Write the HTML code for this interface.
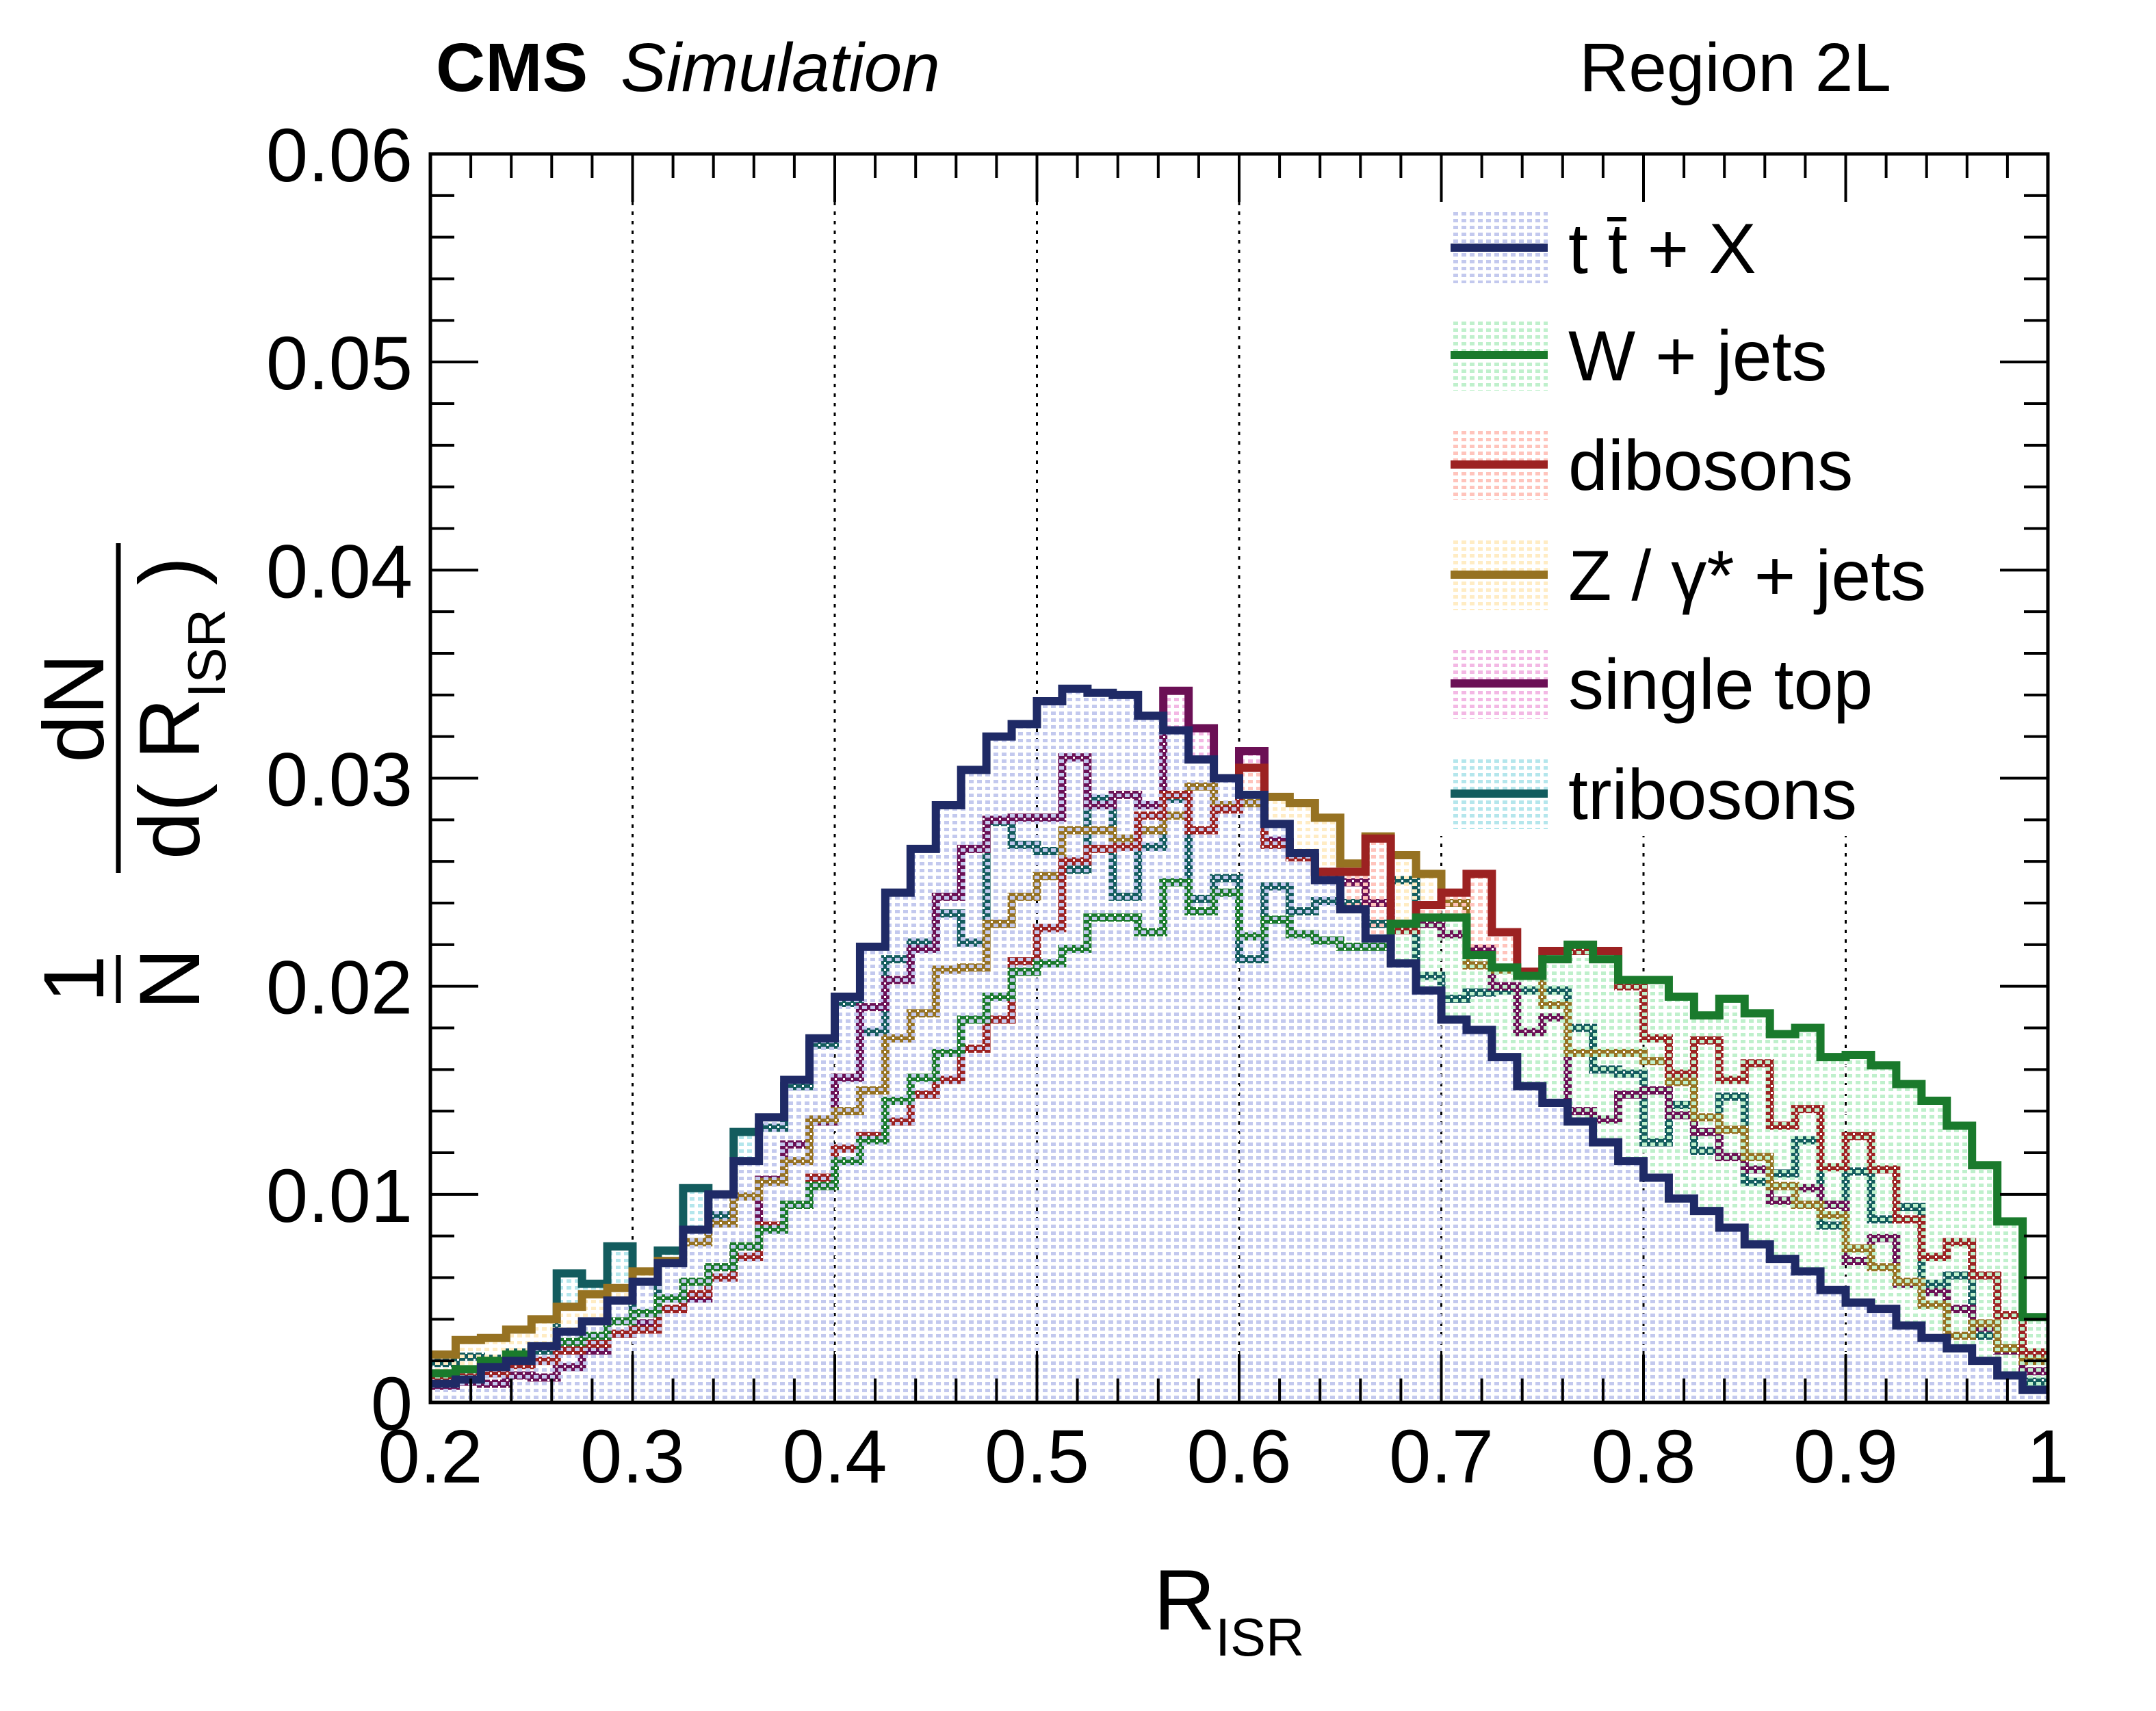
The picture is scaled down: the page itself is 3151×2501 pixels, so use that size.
<!DOCTYPE html>
<html><head><meta charset="utf-8"><style>
html,body{margin:0;padding:0;background:#fff;}
svg{display:block;font-family:"Liberation Sans","DejaVu Sans",sans-serif;}
</style></head><body>
<svg id="chart" xmlns="http://www.w3.org/2000/svg" width="3151" height="2501" viewBox="0 0 3151 2501">
<defs>
<pattern id="p-tt" width="12" height="10" patternUnits="userSpaceOnUse"><rect x="0" y="0" width="7" height="5" fill="#c3c9ee"/><rect x="8" y="6" width="3" height="3" fill="#fff"/></pattern>
<pattern id="p-w" width="12" height="10" patternUnits="userSpaceOnUse"><rect x="0" y="0" width="7" height="5" fill="#bff0cc"/><rect x="8" y="6" width="3" height="3" fill="#fff"/></pattern>
<pattern id="p-vv" width="12" height="10" patternUnits="userSpaceOnUse"><rect x="0" y="0" width="7" height="5" fill="#ffc4bc"/><rect x="8" y="6" width="3" height="3" fill="#fff"/></pattern>
<pattern id="p-z" width="12" height="10" patternUnits="userSpaceOnUse"><rect x="0" y="0" width="7" height="5" fill="#ffecc4"/><rect x="8" y="6" width="3" height="3" fill="#fff"/></pattern>
<pattern id="p-st" width="12" height="10" patternUnits="userSpaceOnUse"><rect x="0" y="0" width="7" height="5" fill="#f3b8e4"/><rect x="8" y="6" width="3" height="3" fill="#fff"/></pattern>
<pattern id="p-vvv" width="12" height="10" patternUnits="userSpaceOnUse"><rect x="0" y="0" width="7" height="5" fill="#b4e6ec"/><rect x="8" y="6" width="3" height="3" fill="#fff"/></pattern>
</defs>
<g id="grid"></g>
<g id="hists"></g>
<g id="legend"></g>
<g id="axes"></g>
<text x="637" y="133" font-size="100" font-weight="bold">CMS</text>
<text x="907" y="133" font-size="100" font-style="italic">Simulation</text>
<text x="2764" y="133" font-size="100" text-anchor="end">Region 2L</text>
<text x="1686" y="2382" font-size="125">R<tspan font-size="78" dy="38">ISR</tspan></text>
<g transform="translate(167,0) rotate(-90)">
  <text x="-1431" y="-16" font-size="125" text-anchor="middle">1</text>
  <line x1="-1466" y1="6" x2="-1396" y2="6" stroke="#000" stroke-width="7"/>
  <text x="-1431" y="124" font-size="125" text-anchor="middle">N</text>
  <text x="-1035" y="-16" font-size="125" text-anchor="middle">dN</text>
  <line x1="-1276" y1="6" x2="-794" y2="6" stroke="#000" stroke-width="7"/>
  <text x="-1035" y="124" font-size="125" text-anchor="middle">d( R<tspan font-size="78" dy="38">ISR</tspan><tspan dy="-38"> )</tspan></text>
</g>
</svg>
<script>
const binLo = 0.2;
const binWidth = 0.0125;
const ttbar = [0.0009,0.0011,0.0017,0.0020,0.0027,0.0034,0.0039,0.0049,0.0058,0.0067,0.0083,0.0100,0.0116,0.0137,0.0155,0.0175,0.0195,0.0219,0.0245,0.0266,0.0287,0.0304,0.0320,0.0326,0.0337,0.0343,0.0341,0.0340,0.0330,0.0323,0.0309,0.0300,0.0292,0.0278,0.0264,0.0251,0.0237,0.0223,0.0211,0.0198,0.0184,0.0179,0.0166,0.0152,0.0144,0.0135,0.0125,0.0116,0.0108,0.0098,0.0092,0.0084,0.0076,0.0069,0.0063,0.0054,0.0048,0.0045,0.0037,0.0031,0.0026,0.0020,0.0013,0.0006];
const wjets = [0.0014,0.0016,0.0020,0.0023,0.0027,0.0029,0.0032,0.0039,0.0043,0.0050,0.0058,0.0065,0.0075,0.0083,0.0095,0.0104,0.0116,0.0126,0.0145,0.0156,0.0168,0.0184,0.0195,0.0207,0.0211,0.0218,0.0233,0.0233,0.0226,0.0250,0.0236,0.0245,0.0224,0.0232,0.0225,0.0222,0.0219,0.0219,0.0230,0.0233,0.0233,0.0215,0.0209,0.0205,0.0213,0.0220,0.0213,0.0203,0.0203,0.0195,0.0186,0.0194,0.0187,0.0177,0.0180,0.0166,0.0167,0.0162,0.0153,0.0145,0.0133,0.0114,0.0087,0.0041];
const dibosons = [0.0012,0.0012,0.0014,0.0018,0.0020,0.0025,0.0028,0.0033,0.0035,0.0045,0.0052,0.0060,0.0070,0.0085,0.0095,0.0108,0.0122,0.0128,0.0135,0.0148,0.0155,0.0170,0.0184,0.0212,0.0228,0.0260,0.0266,0.0267,0.0282,0.0292,0.0275,0.0285,0.0305,0.0268,0.0262,0.0255,0.0255,0.0271,0.0227,0.0239,0.0245,0.0254,0.0226,0.0207,0.0217,0.0217,0.0217,0.0200,0.0175,0.0158,0.0174,0.0155,0.0163,0.0133,0.0141,0.0113,0.0128,0.0112,0.0088,0.0070,0.0077,0.0061,0.0042,0.0024];
const zjets = [0.0023,0.0030,0.0031,0.0035,0.0040,0.0046,0.0052,0.0055,0.0063,0.0068,0.0077,0.0086,0.0099,0.0106,0.0116,0.0136,0.0140,0.0150,0.0175,0.0187,0.0208,0.0209,0.0230,0.0243,0.0253,0.0275,0.0275,0.0271,0.0275,0.0282,0.0296,0.0287,0.0288,0.0291,0.0288,0.0281,0.0259,0.0272,0.0263,0.0254,0.0240,0.0210,0.0208,0.0205,0.0191,0.0168,0.0168,0.0168,0.0164,0.0154,0.0137,0.0131,0.0118,0.0104,0.0095,0.0090,0.0074,0.0065,0.0058,0.0047,0.0032,0.0038,0.0026,0.0020];
const singletop = [0.0008,0.0010,0.0009,0.0013,0.0012,0.0017,0.0025,0.0033,0.0038,0.0045,0.0050,0.0065,0.0075,0.0107,0.0124,0.0135,0.0156,0.0190,0.0203,0.0218,0.0243,0.0266,0.0280,0.0281,0.0281,0.0310,0.0287,0.0292,0.0287,0.0342,0.0324,0.0285,0.0313,0.0270,0.0262,0.0255,0.0250,0.0240,0.0230,0.0230,0.0225,0.0218,0.0200,0.0178,0.0185,0.0140,0.0136,0.0148,0.0150,0.0138,0.0130,0.0118,0.0112,0.0097,0.0103,0.0095,0.0068,0.0079,0.0057,0.0053,0.0045,0.0036,0.0025,0.0015];
const tribosons = [0.0019,0.0022,0.0021,0.0024,0.0025,0.0062,0.0057,0.0075,0.0043,0.0073,0.0103,0.0090,0.0130,0.0132,0.0152,0.0172,0.0192,0.0178,0.0213,0.0221,0.0235,0.0221,0.0279,0.0268,0.0265,0.0256,0.0290,0.0243,0.0267,0.0290,0.0242,0.0252,0.0213,0.0248,0.0236,0.0241,0.0240,0.0230,0.0251,0.0205,0.0194,0.0197,0.0198,0.0198,0.0198,0.0180,0.0160,0.0158,0.0125,0.0143,0.0121,0.0147,0.0106,0.0110,0.0126,0.0085,0.0111,0.0088,0.0094,0.0057,0.0061,0.0032,0.0026,0.0010];
const xTicks = ["0.2","0.3","0.4","0.5","0.6","0.7","0.8","0.9","1"];
const xTickVals = [0.2,0.3,0.4,0.5,0.6,0.7,0.8,0.9,1.0];
const yTicks = ["0","0.01","0.02","0.03","0.04","0.05","0.06"];
const yTickVals = [0,0.01,0.02,0.03,0.04,0.05,0.06];
const legendLabels = ["t t\u0304 + X","W + jets","dibosons","Z / \u03b3* + jets","single top","tribosons"];

const NS = "http://www.w3.org/2000/svg";
const X0 = 629, X1 = 2993, Y0 = 2050, YT = 225;
function X(v){ return X0 + (v - 0.2) / 0.8 * (X1 - X0); }
function Y(v){ return Y0 - v / 0.06 * (Y0 - YT); }
function mk(tag, attrs, parent){ const e = document.createElementNS(NS, tag); for (const k in attrs) e.setAttribute(k, attrs[k]); parent.appendChild(e); return e; }

const grid = document.getElementById('grid');
[0.3,0.4,0.5,0.6,0.7,0.8,0.9].forEach(v => {
  const l = mk('line', {x1:X(v), x2:X(v), y1:Y0, y2:YT, stroke:'#000', 'stroke-width':3, 'stroke-dasharray':'5 9'}, grid);
  
  
});

const series = [
  {name:'tribosons', vals:tribosons, color:'#135c5e', pat:'p-vvv'},
  {name:'single-top', vals:singletop, color:'#6b1055', pat:'p-st'},
  {name:'z-jets', vals:zjets, color:'#967222', pat:'p-z'},
  {name:'dibosons', vals:dibosons, color:'#9c2222', pat:'p-vv'},
  {name:'w-jets', vals:wjets, color:'#1a7a2c', pat:'p-w'},
  {name:'ttbar', vals:ttbar, color:'#1f2a66', pat:'p-tt'}
];
const hists = document.getElementById('hists');
series.forEach(s => {
  let d = 'M' + X(binLo) + ' ' + Y(0);
  let ld = '';
  s.vals.forEach((v, i) => {
    const xa = X(binLo + i * binWidth), xb = X(binLo + (i + 1) * binWidth), y = Y(v);
    d += ' L' + xa + ' ' + y + ' L' + xb + ' ' + y;
    ld += (i === 0 ? 'M' : ' L') + xa + ' ' + y + ' L' + xb + ' ' + y;
  });
  d += ' L' + X(1.0) + ' ' + Y(0) + ' Z';
  const f = mk('path', {d:d, fill:'url(#' + s.pat + ')', stroke:'none'}, hists);
  
  
  const l = mk('path', {d:ld, fill:'none', stroke:s.color, 'stroke-width':12, 'stroke-linejoin':'miter'}, hists);
  
  
});

const leg = document.getElementById('legend');
const lb = mk('rect', {x:2095, y:282, width:880, height:940, fill:'#fff'}, leg);


const legOrder = [5,4,3,2,1,0];
const rowY = [362,519,679,840,999,1160];
legOrder.forEach((si, r) => {
  const s = series[si];
  const g = mk('g', {}, leg);
  
  
  mk('rect', {x:2120, y:rowY[r]-52, width:142, height:104, fill:'url(#' + s.pat + ')'}, g);
  mk('line', {x1:2120, x2:2262, y1:rowY[r], y2:rowY[r], stroke:s.color, 'stroke-width':12}, g);
  const t = mk('text', {x:2292, y:rowY[r]+37, 'font-size':104}, g);
  t.textContent = legendLabels[r];
});

const ax = document.getElementById('axes');
const frame = mk('rect', {x:X0, y:YT, width:X1-X0, height:Y0-YT, fill:'none', stroke:'#000', 'stroke-width':5}, ax);


for (let k = 0; k <= 40; k++) {
  const v = 0.2 + k * 0.02, x = X(v), len = (k % 5 === 0) ? 70 : 35;
  mk('line', {x1:x, x2:x, y1:Y0, y2:Y0-len, stroke:'#000', 'stroke-width':4}, ax);
  mk('line', {x1:x, x2:x, y1:YT, y2:YT+len, stroke:'#000', 'stroke-width':4}, ax);
}
for (let k = 0; k <= 30; k++) {
  const v = k * 0.002, y = Y(v), len = (k % 5 === 0) ? 70 : 35;
  mk('line', {x1:X0, x2:X0+len, y1:y, y2:y, stroke:'#000', 'stroke-width':4}, ax);
  mk('line', {x1:X1, x2:X1-len, y1:y, y2:y, stroke:'#000', 'stroke-width':4}, ax);
}
xTicks.forEach((lab, i) => {
  const t = mk('text', {x:X(xTickVals[i]), y:2167, 'font-size':110, 'text-anchor':'middle'}, ax);
  
  
  t.textContent = lab;
});
yTicks.forEach((lab, i) => {
  const t = mk('text', {x:603, y:Y(yTickVals[i]) + 40, 'font-size':110, 'text-anchor':'end'}, ax);
  
  
  t.textContent = lab;
});
</script>
</body></html>
